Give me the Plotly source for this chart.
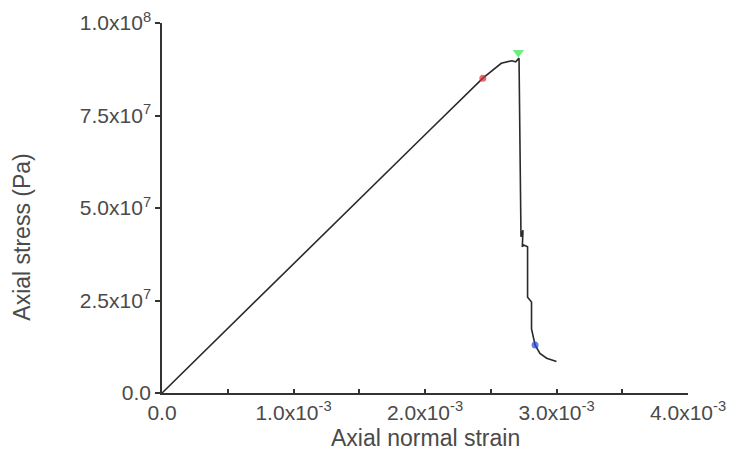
import plotly.graph_objects as go

# Stress-strain record (strain, stress in Pa)
strain = [0.0, 0.5e-3, 1.0e-3, 1.5e-3, 2.0e-3, 2.44e-3, 2.58e-3, 2.66e-3, 2.69e-3,
          2.715e-3, 2.72e-3, 2.73e-3, 2.745e-3, 2.74e-3, 2.75e-3, 2.78e-3, 2.78e-3,
          2.81e-3, 2.81e-3, 2.837e-3, 2.874e-3, 2.925e-3, 3.0e-3]
stress = [0.0, 17.5e6, 35.0e6, 52.3e6, 69.8e6, 85.1e6, 89.1e6, 89.8e6, 89.5e6,
          90.5e6, 75.0e6, 42.2e6, 44.0e6, 39.5e6, 40.0e6, 39.5e6, 25.9e6,
          24.6e6, 17.3e6, 13.0e6, 10.7e6, 9.4e6, 8.5e6]

# Highlighted states
mark_strain = [2.44e-3, 2.71e-3, 2.837e-3]
mark_stress = [85.1e6, 92.0e6, 13.0e6]
mark_symbol = ["circle", "triangle-down", "circle"]
mark_color = ["#d4302f", "#2ee84a", "#2347e0"]
mark_size = [7, 10, 7]

x_tickvals = [0, 0.5e-3, 1e-3, 1.5e-3, 2e-3, 2.5e-3, 3e-3, 3.5e-3, 4e-3]
x_ticktext = ["0.0", "", "1.0x10<sup>-3</sup>", "", "2.0x10<sup>-3</sup>", "",
              "3.0x10<sup>-3</sup>", "", "4.0x10<sup>-3</sup>"]
y_tickvals = [0, 2.5e7, 5e7, 7.5e7, 1e8]
y_ticktext = ["0.0", "2.5x10<sup>7</sup>", "5.0x10<sup>7</sup>",
              "7.5x10<sup>7</sup>", "1.0x10<sup>8</sup>"]

x_title = "Axial normal strain"
y_title = "Axial stress (Pa)"

fig = go.Figure()
fig.add_trace(go.Scatter(x=strain, y=stress, mode="lines",
                         line=dict(color="#2a2a2a", width=1.6),
                         showlegend=False, hoverinfo="skip"))
fig.add_trace(go.Scatter(x=mark_strain, y=mark_stress, mode="markers",
                         marker=dict(symbol=mark_symbol, color=mark_color,
                                     size=mark_size, line=dict(width=0)),
                         showlegend=False))

txt_color = "#4a4a4a"
family = "Liberation Sans, Arial, sans-serif"

fig.update_layout(
    width=737, height=463,
    margin=dict(l=162, r=49, t=23, b=70),
    paper_bgcolor="white", plot_bgcolor="white",
    font=dict(family=family, size=21, color=txt_color),
    xaxis=dict(range=[0, 4e-3], tickmode="array", tickvals=x_tickvals,
               ticktext=x_ticktext, ticks="inside", ticklen=4, tickwidth=1.5,
               tickcolor="#333", showline=True, linecolor="#333", linewidth=1.5,
               showgrid=False, zeroline=False, automargin=False,
               tickfont=dict(size=21)),
    yaxis=dict(range=[0, 1e8], tickmode="array", tickvals=y_tickvals,
               ticktext=y_ticktext, ticks="outside", ticklen=5, tickwidth=1.5,
               tickcolor="#333", showline=True, linecolor="#333", linewidth=1.5,
               showgrid=False, zeroline=False, automargin=False,
               tickfont=dict(size=21)),
    annotations=[
        dict(text=x_title, xref="paper", yref="paper", x=0.5, y=-0.122,
             xanchor="center", yanchor="middle", showarrow=False,
             font=dict(size=23, color=txt_color, family=family)),
        dict(text=y_title, xref="paper", yref="paper", x=-0.266, y=0.42,
             xanchor="center", yanchor="middle", textangle=-90, showarrow=False,
             font=dict(size=23, color=txt_color, family=family)),
    ],
)

fig.write_html("out.html")
